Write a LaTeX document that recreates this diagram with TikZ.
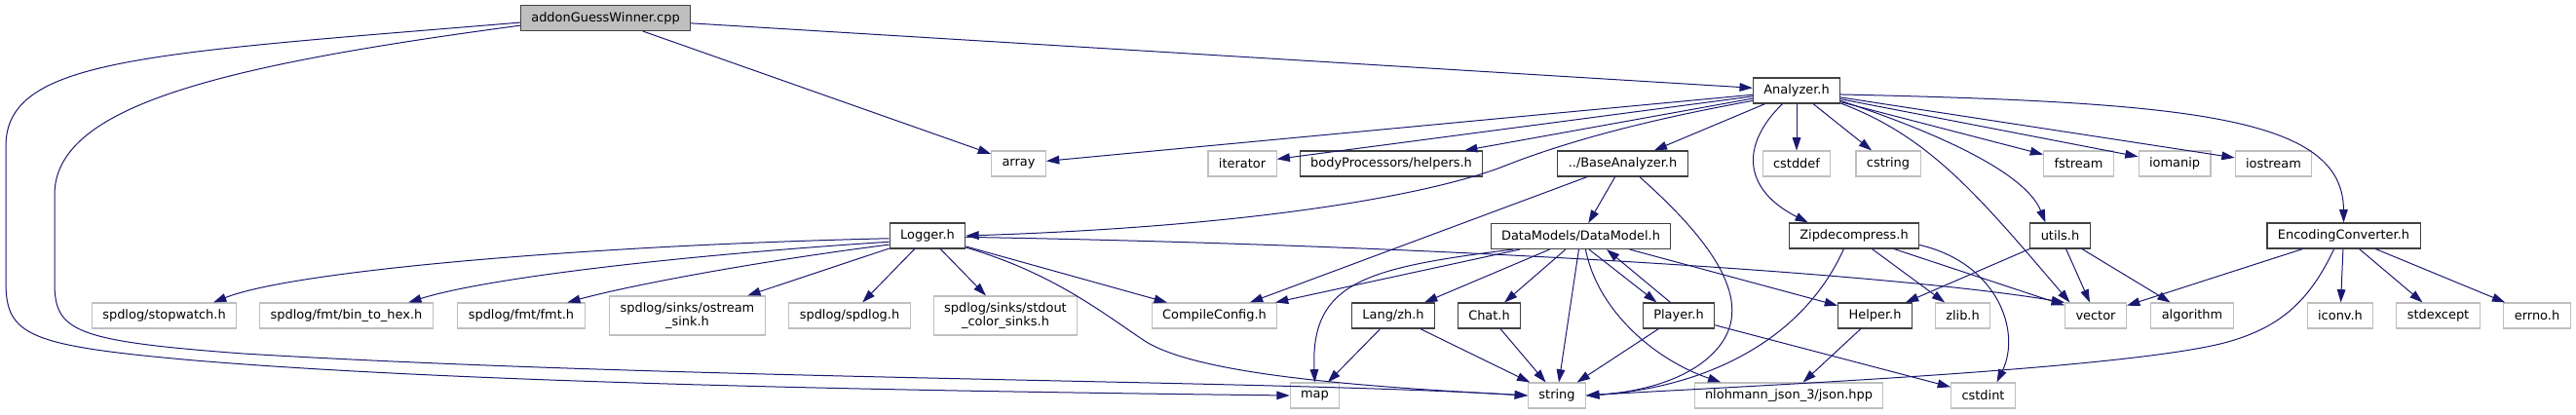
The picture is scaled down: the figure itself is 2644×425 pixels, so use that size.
\documentclass[tikz,border=0pt]{standalone}
\usepackage{fontspec}
\setmainfont{DejaVu Sans}
\usetikzlibrary{arrows.meta}
\definecolor{edgeblue}{RGB}{25,25,112}
\definecolor{sysgrey}{RGB}{191,191,191}
\definecolor{docgrey}{RGB}{64,64,64}

\begin{document}
\begin{tikzpicture}[
    x=0.75pt, y=-0.75pt,
    file/.style={draw=#1, fill=white, line width=0.8pt, minimum height=19.5pt, inner xsep=8.2pt, inner ysep=0pt, font=\fontsize{9.7}{10}\selectfont, align=center},
    doc/.style={file=docgrey},
    sys/.style={file=sysgrey},
    root/.style={file=docgrey, fill=sysgrey},
    twoline/.style={minimum height=30pt},
    arrow/.style={-{Triangle[length=10pt, width=6.5pt]}, line width=0.75pt, color=edgeblue}
]
    \useasboundingbox (0,0) rectangle (2644,425);

    \node[root] (guess) at (621.5,18.5) {addonGuessWinner.cpp};
    \node[doc] (analyzer) at (1844,93) {Analyzer.h};
    \node[sys] (array) at (1045.5,168) {array};
    \node[sys] (iterator) at (1275,168) {iterator};
    \node[doc] (helpers) at (1428,168) {bodyProcessors/helpers.h};
    \node[doc] (base) at (1665.5,168) {../BaseAnalyzer.h};
    \node[sys] (cstddef) at (1844,168) {cstddef};
    \node[sys] (cstring) at (1938,168) {cstring};
    \node[sys] (fstream) at (2133.5,168) {fstream};
    \node[sys] (iomanip) at (2232,168) {iomanip};
    \node[sys] (iostream) at (2333.5,168) {iostream};
    \node[doc] (logger) at (952,242) {Logger.h};
    \node[doc] (datamodel) at (1622.5,242.5) {DataModels/DataModel.h};
    \node[doc] (zipdec) at (1903,242) {Zipdecompress.h};
    \node[doc] (utils) at (2114.5,242) {utils.h};
    \node[doc] (enconv) at (2405.5,242) {EncodingConverter.h};
    \node[sys] (stopwatch) at (168.5,324) {spdlog/stopwatch.h};
    \node[sys] (bintohex) at (355.5,324) {spdlog/fmt/bin\_to\_hex.h};
    \node[sys] (fmt) at (535,324) {spdlog/fmt/fmt.h};
    \node[sys, twoline] (ostreamsink) at (705.5,324) {spdlog/sinks/ostream\\\_sink.h};
    \node[sys] (spdlog) at (872,324) {spdlog/spdlog.h};
    \node[sys, twoline] (stdoutsinks) at (1032,324) {spdlog/sinks/stdout\\\_color\_sinks.h};
    \node[sys] (compilecfg) at (1246.5,324) {CompileConfig.h};
    \node[doc] (zh) at (1430,324) {Lang/zh.h};
    \node[doc] (chat) at (1528.5,324) {Chat.h};
    \node[doc] (player) at (1723,324) {Player.h};
    \node[doc] (helper) at (1924.5,324) {Helper.h};
    \node[sys] (zlib) at (2014.5,324) {zlib.h};
    \node[sys] (vector) at (2151,324) {vector};
    \node[sys] (algorithm) at (2250,324) {algorithm};
    \node[sys] (iconv) at (2402,324) {iconv.h};
    \node[sys] (stdexcept) at (2502.5,324) {stdexcept};
    \node[sys] (errno) at (2604,324) {errno.h};
    \node[sys] (map) at (1349.5,406) {map};
    \node[sys] (string) at (1598,406) {string};
    \node[sys] (json) at (1836,406) {nlohmann\_json\_3/json.hpp};
    \node[sys] (cstdint) at (2035.5,406) {cstdint};

    \draw[arrow] (guess) -- (analyzer);
    \draw[arrow] (guess) -- (array);
    \draw[arrow] (guess.183) .. controls (150,55) and (6,60) .. (6,150) -- (6,290) .. controls (6,345) and (30,355) .. (200,370) .. controls (500,395) and (1000,402) .. (map.west);
    \draw[arrow] (guess.185.5) .. controls (220,68) and (56,110) .. (56,200) -- (56,290) .. controls (56,340) and (75,350) .. (250,363) .. controls (700,390) and (1300,390) .. (string.west);

    \draw[arrow] (analyzer) -- (array);
    \draw[arrow] (analyzer) -- (iterator);
    \draw[arrow] (analyzer) -- (helpers);
    \draw[arrow] (analyzer) -- (base);
    \draw[arrow] (analyzer.193) .. controls (1680,125) and (1600,148) .. (1540,172) .. controls (1470,198) and (1300,232) .. (logger.east);
    \draw[arrow] (analyzer) -- (cstddef);
    \draw[arrow] (analyzer) -- (cstring);
    \draw[arrow] (analyzer.223) .. controls (1785,150) and (1790,195) .. (zipdec.164);
    \draw[arrow] (analyzer.-16) .. controls (1980,140) and (2030,200) .. (vector.153);
    \draw[arrow] (analyzer.-13) .. controls (2000,140) and (2080,180) .. (utils.138);
    \draw[arrow] (analyzer) -- (fstream);
    \draw[arrow] (analyzer) -- (iomanip);
    \draw[arrow] (analyzer) -- (iostream);
    \draw[arrow] (analyzer.-5) .. controls (2250,105) and (2405,120) .. (enconv.north);

    \draw[arrow] (logger.184) .. controls (600,252) and (300,278) .. (stopwatch.15);
    \draw[arrow] (logger.189) .. controls (700,262) and (500,285) .. (bintohex.12);
    \draw[arrow] (logger.193) .. controls (780,268) and (650,292) .. (fmt.16);
    \draw[arrow] (logger) -- (ostreamsink);
    \draw[arrow] (logger) -- (spdlog);
    \draw[arrow] (logger) -- (stdoutsinks);
    \draw[arrow] (logger) -- (compilecfg);
    \draw[arrow] (logger.-17) .. controls (1080,280) and (1130,320) .. (1175,350) .. controls (1230,385) and (1400,397) .. (string.west);
    \draw[arrow] (logger.-2) .. controls (1500,252) and (1950,282) .. (vector.157);

    \draw[arrow] (base) -- (compilecfg);
    \draw[arrow] (base) -- (datamodel);
    \draw[arrow] (base.-38) .. controls (1760,250) and (1800,310) .. (1765,355) .. controls (1740,387) and (1690,402) .. (string.east);

    \draw[arrow] (datamodel) -- (compilecfg);
    \draw[arrow] (datamodel.191) .. controls (1400,275) and (1345,290) .. (map.north);
    \draw[arrow] (datamodel) -- (zh);
    \draw[arrow] (datamodel) -- (chat);
    \draw[arrow] (datamodel) -- (string);
    \draw[arrow] (datamodel.-58) -- (player.149);
    \draw[arrow] (datamodel) -- (helper);
    \draw[arrow] (datamodel.-70) .. controls (1640,320) and (1700,370) .. (json.169);
    \draw[arrow] (player.122) -- (datamodel.-27);

    \draw[arrow] (zh) -- (map);
    \draw[arrow] (zh) -- (string);
    \draw[arrow] (chat) -- (string);
    \draw[arrow] (player) -- (string);
    \draw[arrow] (player) -- (cstdint);
    \draw[arrow] (helper) -- (json);

    \draw[arrow] (zipdec.-128) .. controls (1850,350) and (1750,398) .. (string.east);
    \draw[arrow] (zipdec) -- (zlib);
    \draw[arrow] (zipdec) -- (vector);
    \draw[arrow] (zipdec.-8) .. controls (2050,270) and (2075,340) .. (cstdint.44);

    \draw[arrow] (utils) -- (helper);
    \draw[arrow] (utils) -- (vector);
    \draw[arrow] (utils) -- (algorithm);

    \draw[arrow] (enconv) -- (vector);
    \draw[arrow] (enconv) -- (iconv);
    \draw[arrow] (enconv) -- (stdexcept);
    \draw[arrow] (enconv) -- (errno);
    \draw[arrow] (enconv.-126) .. controls (2370,310) and (2340,335) .. (2290,350) .. controls (2190,380) and (1750,398) .. (string.east);
\end{tikzpicture}
\end{document}
